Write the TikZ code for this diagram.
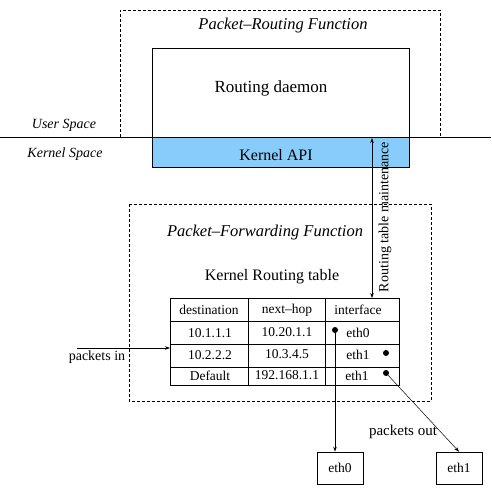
\documentclass[tikz,border=0pt]{standalone}
\usepackage{fontspec}
\setmainfont{Liberation Serif}
\usetikzlibrary{arrows.meta}
\definecolor{apiblue}{RGB}{135,204,250}
\begin{document}
\begin{tikzpicture}[x=1pt,y=-1pt,
  dbox/.style={draw,dash pattern=on 3pt off 2pt,line width=0.7pt},
  sbox/.style={draw,line width=0.7pt},
  lbl/.style={inner sep=0pt,font=\fontsize{14}{16}\selectfont},
  ilbl/.style={inner sep=0pt,font=\fontsize{14}{16}\selectfont\itshape},
  cell/.style={inner sep=0pt,font=\fontsize{13.5}{16}\selectfont},
  arr/.style={-{Stealth[length=5pt,width=3.5pt]},line width=0.5pt},
  dot/.style={circle,fill=black,inner sep=0pt,minimum size=6pt}]
\useasboundingbox (0,0) rectangle (491,495);
% top dashed box (open at the bottom)
\draw[dbox] (120,137) -- (120,10) -- (440,10) -- (440,137);
\node[ilbl,font=\fontsize{16.5}{18}\selectfont\itshape] (prf) at (283,26) {Packet–Routing Function};
% routing daemon and kernel API
\node[sbox,minimum width=257pt,minimum height=89pt,inner sep=0pt,font=\fontsize{17}{19}\selectfont] (daemon) at (280.5,92.5) {};
\node[inner sep=0pt,font=\fontsize{17}{19}\selectfont] (dtxt) at (271,88) {Routing daemon};
\node[sbox,fill=apiblue,minimum width=257pt,minimum height=30pt,inner sep=0pt] (api) at (280.5,152) {};
\node[inner sep=0pt,font=\fontsize{16}{18}\selectfont] (apitxt) at (276,155) {Kernel API};
% user/kernel boundary
\coordinate (bl) at (0,137);
\coordinate (br) at (491,137);
\draw[line width=0.8pt] (bl) -- (br);
\node[ilbl] (us) at (64,125) {User Space};
\node[ilbl] (ks) at (65,154) {Kernel Space};
% lower dashed box
\draw[dbox] (129,204) rectangle (431,401);
\node[ilbl,font=\fontsize{16.5}{18}\selectfont\itshape] (pff) at (265,233) {Packet–Forwarding Function};
\node[inner sep=0pt,font=\fontsize{16}{18}\selectfont] (krt) at (272,277) {Kernel Routing table};
% table
\draw[sbox] (170,298) rectangle (399,385);
\foreach \y in {321,344,367} \draw[line width=0.7pt] (170,\y) -- (399,\y);
\foreach \x in {248,325} \draw[line width=0.7pt] (\x,298) -- (\x,385);
\node[cell] (h1) at (209,310) {destination};
\node[cell] (h2) at (287,310) {next–hop};
\node[cell] (h3) at (358,310) {interface};
\node[cell] (r11) at (210,333) {10.1.1.1};
\node[cell] (r12) at (287,332) {10.20.1.1};
\node[cell] (r13) at (358,333) {eth0};
\node[cell] (r21) at (210,355) {10.2.2.2};
\node[cell] (r22) at (287,354) {10.3.4.5};
\node[cell] (r23) at (358,355) {eth1};
\node[cell] (r31) at (210,376) {Default};
\node[cell] (r32) at (287,375) {192.168.1.1};
\node[cell] (r33) at (357,376) {eth1};
\node[dot] (d1) at (335,330) {};
\node[dot] (d2) at (386,353) {};
\node[dot] (d3) at (386,373) {};
% routing table maintenance arrow
\coordinate (mtop) at (372,138);
\coordinate (mbot) at (372,298);
\draw[{Stealth[length=5pt,width=3.5pt]}-{Stealth[length=5pt,width=3.5pt]},line width=0.5pt] (mtop) -- (mbot);
\node[lbl,rotate=90] (rtm) at (385,217) {Routing table maintenance};
% packets in
\coordinate (pin) at (77,348);
\coordinate (tin) at (170,348);
\draw[arr] (pin) -- (tin);
\node[lbl] (pintxt) at (97,357) {packets in};
% output interfaces
\node[sbox,minimum width=46pt,minimum height=32pt,inner sep=0pt,font=\fontsize{13.5}{16}\selectfont] (e0) at (340,468) {eth0};
\node[sbox,minimum width=46pt,minimum height=32pt,inner sep=0pt,font=\fontsize{13.5}{16}\selectfont] (e1) at (459,468) {eth1};
\draw[arr] (d1.center) -- (d1.center |- e0.north);
\draw[arr] (d3.center) -- (e1.north);
\node[inner sep=0pt,font=\fontsize{15}{17}\selectfont] (pout) at (403,432) {packets out};
\end{tikzpicture}
\end{document}
